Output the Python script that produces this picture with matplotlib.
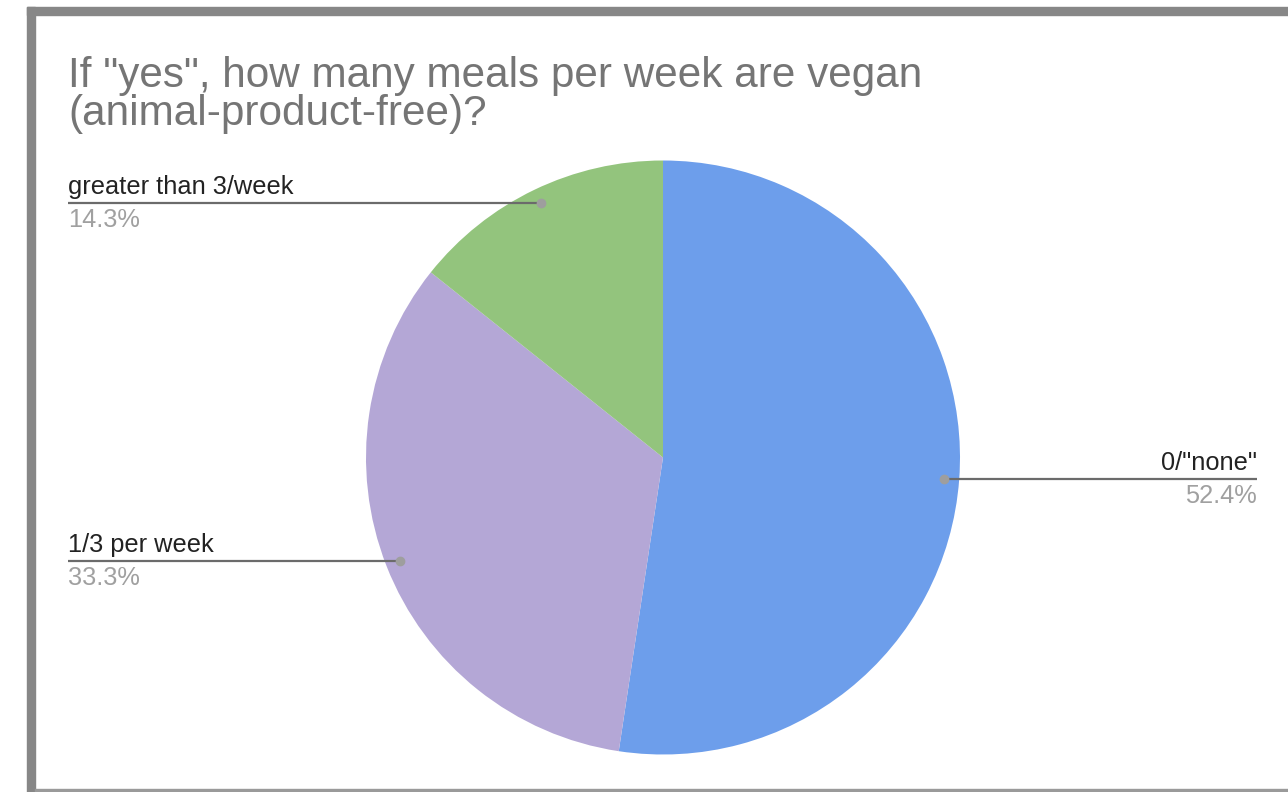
import numpy as np
import matplotlib.pyplot as plt
from matplotlib.patches import Rectangle

plt.rcParams['font.family'] = ['Liberation Sans', 'DejaVu Sans']

# --- Data ---
title = 'If "yes", how many meals per week are vegan\n(animal-product-free)?'
categories = ['0/"none"', '1/3 per week', 'greater than 3/week']
counts = [11, 7, 3]
percent_labels = ['52.4%', '33.3%', '14.3%']
colors = ['#6d9eeb', '#b4a7d6', '#93c47d']

# --- Layout (pixels) ---
W, H = 1288, 792
CX, CY, R = 663, 457.5, 297
LEFT_X, RIGHT_X = 68, 1257


def px_to_data(px, py):
    return (px - CX) / R, (CY - py) / R


fig = plt.figure(figsize=(W / 100, H / 100), dpi=100)
fig.patch.set_facecolor('white')

# screenshot frame
border = '#878787'
fig.patches.append(Rectangle((27 / W, 0), 8 / W, 1 - 7 / H, transform=fig.transFigure,
                             color=border, zorder=0))
fig.patches.append(Rectangle((27 / W, 1 - 15 / H), 1, 8 / H, transform=fig.transFigure,
                             color=border, zorder=0))
fig.patches.append(Rectangle((35 / W, 0), 1, 3 / H, transform=fig.transFigure,
                             color='#9a9a9a', zorder=0))

ax = fig.add_axes([0, 0, 1, 1])
wedges, _ = ax.pie(counts, colors=colors, startangle=90, counterclock=False,
                   radius=1, center=(0, 0), wedgeprops=dict(linewidth=0))
ax.set_aspect('auto')
x0, y1 = px_to_data(0, 0)
x1, y0 = px_to_data(W, H)
ax.set_xlim(x0, x1)
ax.set_ylim(y0, y1)
ax.axis('off')

left_data_x = px_to_data(LEFT_X, 0)[0]
right_data_x = px_to_data(RIGHT_X, 0)[0]

for w, name, pct in zip(wedges, categories, percent_labels):
    mid = np.deg2rad((w.theta1 + w.theta2) / 2)
    dx, dy = 0.95 * np.cos(mid), 0.95 * np.sin(mid)
    if dx > 0:
        tx, ha = right_data_x, 'right'
    else:
        tx, ha = left_data_x, 'left'
    ax.plot([dx, tx], [dy, dy], color='#6b6b6b', lw=1.6, solid_capstyle='butt', zorder=3)
    ax.plot(dx, dy, 'o', color='#9e9e9e', ms=6, zorder=4)
    ax.annotate(name, (tx, dy), xytext=(0, 4), textcoords='offset pixels',
                ha=ha, va='bottom', fontsize=18.3, color='#222222')
    ax.annotate(pct, (tx, dy), xytext=(0, -5), textcoords='offset pixels',
                ha=ha, va='top', fontsize=18.3, color='#a0a0a0')

fig.text(68 / W, 1 - 56 / H, title, ha='left', va='top', fontsize=30.4,
         color='#757575', linespacing=0.92)

fig.savefig('out.png', dpi=100)
